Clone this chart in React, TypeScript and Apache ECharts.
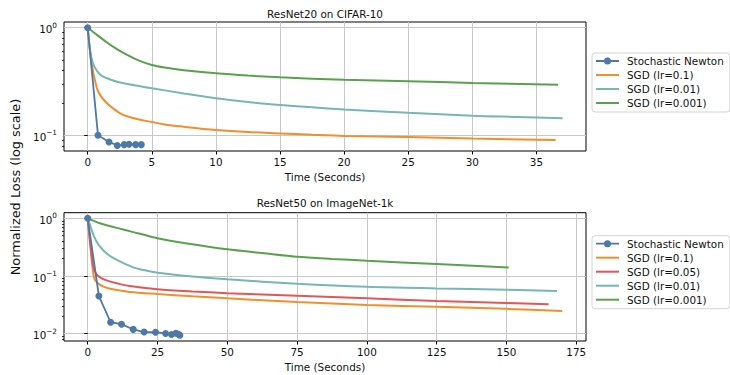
import React, { useEffect, useRef } from "react";
import * as echarts from "echarts";

const FONT = "DejaVu Sans";

// ---------- tick values ----------
const cifarXTicks = [0, 5, 10, 15, 20, 25, 30, 35];
const imagenetXTicks = [0, 25, 50, 75, 100, 125, 150, 175];
const cifarYTicks = [0.1, 1];
const imagenetYTicks = [0.01, 0.1, 1];
const cifarYMinor = [0.08, 0.09, 0.2, 0.3, 0.4, 0.5, 0.6, 0.7, 0.8, 0.9];
const imagenetYMinor = [0.008, 0.009, 0.02, 0.03, 0.04, 0.05, 0.06, 0.07, 0.08, 0.09, 0.2, 0.3, 0.4, 0.5, 0.6, 0.7, 0.8, 0.9];

// axis extents (matplotlib 5% margins)
const cifarXRange = [-1.85, 38.87];
const cifarYRange = [0.0721, 1.13];
const imagenetXRange = [-8.5, 178.5];
const imagenetYRange = [0.00748, 1.25];

// ---------- series names ----------
const NEWTON = "Stochastic Newton";
const LR01 = "SGD (lr=0.1)";
const LR005 = "SGD (lr=0.05)";
const LR001 = "SGD (lr=0.01)";
const LR0001 = "SGD (lr=0.001)";

// ---------- ResNet20 on CIFAR-10 ----------
const cifarNewton = [[0, 1.0], [0.8, 0.101], [1.66, 0.0875], [2.31, 0.081], [2.85, 0.0826], [3.22, 0.0832], [3.74, 0.0826], [4.18, 0.0826]];
const cifarLr01 = [[0, 1.0], [0.3, 0.47], [0.7, 0.28], [1.0, 0.235], [1.5, 0.2], [2.0, 0.178], [2.5, 0.162], [3, 0.152], [4, 0.141], [5, 0.134], [6, 0.127], [7.5, 0.121], [10, 0.113], [12.5, 0.108], [15, 0.105], [17.5, 0.102], [20, 0.0995], [25, 0.097], [30, 0.094], [36.5, 0.091]];
const cifarLr001 = [[0, 1.0], [0.2, 0.6], [0.5, 0.44], [1, 0.365], [1.5, 0.34], [2.3, 0.316], [3, 0.302], [4, 0.288], [5, 0.275], [7.5, 0.246], [10, 0.222], [12.5, 0.205], [15, 0.192], [17.5, 0.183], [20, 0.175], [25, 0.163], [30, 0.153], [33.5, 0.149], [37.05, 0.145]];
const cifarLr0001 = [[0, 1.0], [0.5, 0.9], [1, 0.81], [1.5, 0.73], [2, 0.665], [3, 0.565], [4, 0.495], [5, 0.452], [6, 0.428], [7.5, 0.404], [10, 0.378], [12.5, 0.36], [15, 0.347], [17.5, 0.337], [20, 0.329], [25, 0.319], [30, 0.308], [36.7, 0.296]];

// ---------- ResNet50 on ImageNet-1k ----------
const imagenetNewton = [[0, 1.0], [4.0, 0.045], [8.2, 0.0158], [12.1, 0.0146], [16.3, 0.0119], [20.2, 0.0107], [24.3, 0.0106], [27.9, 0.0101], [30.0, 0.0097], [31.6, 0.0102], [32.5, 0.0098], [33.0, 0.0094]];
const imagenetLr01 = [[0, 1.0], [1, 0.3], [2, 0.11], [2.6, 0.085], [4.4, 0.07], [7, 0.062], [10.4, 0.057], [15, 0.053], [25, 0.0488], [37.5, 0.0445], [50, 0.041], [75, 0.0355], [100, 0.0316], [125, 0.0293], [150, 0.027], [170, 0.0247]];
const imagenetLr005 = [[0, 1.0], [0.8, 0.42], [2, 0.145], [3, 0.11], [4.4, 0.095], [7, 0.083], [10.4, 0.0747], [15, 0.067], [25, 0.059], [37.5, 0.054], [50, 0.0505], [75, 0.0455], [100, 0.041], [125, 0.037], [150, 0.034], [165.1, 0.0323]];
const imagenetLr001 = [[0, 1.0], [1, 0.72], [2, 0.52], [3, 0.41], [4.4, 0.323], [7, 0.24], [10.4, 0.19], [16.3, 0.141], [20, 0.127], [25, 0.114], [37.5, 0.098], [50, 0.0875], [75, 0.0735], [100, 0.065], [125, 0.061], [150, 0.058], [168.1, 0.055]];
const imagenetLr0001 = [[0, 1.0], [4.4, 0.82], [10, 0.69], [15, 0.6], [25, 0.45], [35, 0.37], [50, 0.29], [62.5, 0.25], [75, 0.216], [87.5, 0.198], [100, 0.184], [125, 0.161], [150.8, 0.141]];

const COLORS = {
  newton: "#4e79a7",
  lr01: "#f28e2b",
  lr005: "#e15759",
  lr001: "#76b7b2",
  lr0001: "#59a14f",
};

// legend handles (matplotlib style: plain line, or line with a marker)
const LINE_ICON = "path://M0,0 L23,0 L23,2 L0,2 Z";
const MARKER_ICON =
  "path://M0,2.6 L8.6,2.6 L8.6,4.4 L0,4.4 Z M14.4,2.6 L23,2.6 L23,4.4 L14.4,4.4 Z M8,3.5 A3.5,3.5 0 1 1 15,3.5 A3.5,3.5 0 1 1 8,3.5 Z";

const supFormatter = (v: number) => {
  const e = Math.round(Math.log10(v));
  const s = e < 0 ? "\u2212" + String(-e) : String(e);
  return "{b|10}{s|" + s + "}";
};

const labelRich = {
  b: { fontSize: 10.4, lineHeight: 11, color: "#111", fontFamily: FONT, padding: [3, 0, 0, 0] },
  s: { fontSize: 7.3, lineHeight: 8, color: "#111", fontFamily: FONT, padding: [0, 0, 5.4, 0] },
};

function xAxisDef(gridIndex: number, range: number[], ticks: number[]) {
  return {
    type: "value",
    gridIndex,
    min: range[0],
    max: range[1],
    axisLine: { show: false },
    axisTick: { show: true, length: 3.5, customValues: ticks, lineStyle: { color: "#000", width: 1 } },
    axisLabel: { customValues: ticks, fontSize: 10.4, color: "#111", fontFamily: FONT, margin: 6 },
    splitLine: { show: true, lineStyle: { color: "#c8c8c8", width: 1 } },
    name: "Time (Seconds)",
    nameLocation: "middle",
    nameGap: 21,
    nameTextStyle: { fontSize: 10.4, color: "#111", fontFamily: FONT },
  };
}

function yAxisMajor(gridIndex: number, range: number[], ticks: number[]) {
  return {
    type: "log",
    logBase: 10,
    gridIndex,
    min: range[0],
    max: range[1],
    axisLine: { show: false },
    axisTick: { show: true, length: 3.5, customValues: ticks, lineStyle: { color: "#000", width: 1 } },
    axisLabel: { customValues: ticks, formatter: supFormatter, rich: labelRich, margin: 7 },
    splitLine: { show: true, lineStyle: { color: "#c8c8c8", width: 1 } },
  };
}

function yAxisMinor(gridIndex: number, range: number[], ticks: number[]) {
  return {
    type: "log",
    logBase: 10,
    gridIndex,
    min: range[0],
    max: range[1],
    position: "left",
    axisLine: { show: false },
    axisTick: { show: true, length: 2, customValues: ticks, lineStyle: { color: "#000", width: 0.8 } },
    axisLabel: { show: false },
    splitLine: { show: false },
  };
}

function sgd(name: string, data: number[][], color: string, xi: number, yi: number) {
  return {
    type: "line",
    name,
    data,
    xAxisIndex: xi,
    yAxisIndex: yi,
    symbol: "none",
    showSymbol: false,
    smooth: 0.3,
    lineStyle: { color, width: 2 },
    itemStyle: { color },
    z: 2,
  };
}

function newton(data: number[][], xi: number, yi: number) {
  return {
    type: "line",
    name: NEWTON,
    data,
    xAxisIndex: xi,
    yAxisIndex: yi,
    symbol: "circle",
    symbolSize: 7,
    showSymbol: true,
    lineStyle: { color: COLORS.newton, width: 1.8 },
    itemStyle: { color: COLORS.newton },
    z: 4,
  };
}

function legendDef(top: number, names: string[]) {
  return {
    data: names.map((n) => ({ name: n, icon: n === NEWTON ? MARKER_ICON : LINE_ICON })),
    orient: "vertical",
    left: 592,
    top,
    itemWidth: 23,
    itemHeight: 12,
    itemGap: 4,
    padding: [3, 6, 4, 4],
    borderColor: "#d4d4d4",
    borderWidth: 1,
    borderRadius: 3,
    backgroundColor: "rgba(255,255,255,0.8)",
    selectedMode: false,
    itemStyle: { borderWidth: 0 },
    textStyle: { fontSize: 10.4, color: "#111", fontFamily: FONT, padding: [0, 0, 0, 3] },
  };
}

export default function App() {
  const ref = useRef<HTMLDivElement>(null);

  useEffect(() => {
    if (!ref.current) return;
    const chart = echarts.init(ref.current, undefined, { renderer: "svg" });
    const option = {
      animation: false,
      backgroundColor: "#fff",
      textStyle: { fontFamily: FONT },
      grid: [
        { left: 64, top: 22, width: 522, height: 129, show: true, borderColor: "#000", borderWidth: 1, backgroundColor: "transparent" },
        { left: 64, top: 212.7, width: 522, height: 128.3, show: true, borderColor: "#000", borderWidth: 1, backgroundColor: "transparent" },
      ],
      xAxis: [xAxisDef(0, cifarXRange, cifarXTicks), xAxisDef(1, imagenetXRange, imagenetXTicks)],
      yAxis: [
        yAxisMajor(0, cifarYRange, cifarYTicks),
        yAxisMinor(0, cifarYRange, cifarYMinor),
        yAxisMajor(1, imagenetYRange, imagenetYTicks),
        yAxisMinor(1, imagenetYRange, imagenetYMinor),
      ],
      legend: [
        legendDef(53, [NEWTON, LR01, LR001, LR0001]),
        legendDef(235.7, [NEWTON, LR01, LR005, LR001, LR0001]),
      ],
      graphic: [
        { type: "text", x: 325, y: 13.5, style: { text: "ResNet20 on CIFAR-10", fontSize: 10.4, fontFamily: FONT, fill: "#111", align: "center", verticalAlign: "middle" } },
        { type: "text", x: 325, y: 203, style: { text: "ResNet50 on ImageNet-1k", fontSize: 10.4, fontFamily: FONT, fill: "#111", align: "center", verticalAlign: "middle" } },
        { type: "text", x: 15.5, y: 187, rotation: Math.PI / 2, style: { text: "Normalized Loss (log scale)", fontSize: 12.9, fontFamily: FONT, fill: "#111", align: "center", verticalAlign: "middle" } },
      ],
      series: [
        sgd(LR01, cifarLr01, COLORS.lr01, 0, 0),
        sgd(LR001, cifarLr001, COLORS.lr001, 0, 0),
        sgd(LR0001, cifarLr0001, COLORS.lr0001, 0, 0),
        newton(cifarNewton, 0, 0),
        sgd(LR01, imagenetLr01, COLORS.lr01, 1, 2),
        sgd(LR005, imagenetLr005, COLORS.lr005, 1, 2),
        sgd(LR001, imagenetLr001, COLORS.lr001, 1, 2),
        sgd(LR0001, imagenetLr0001, COLORS.lr0001, 1, 2),
        newton(imagenetNewton, 1, 2),
      ],
    };
    chart.setOption(option as any);
    return () => chart.dispose();
  }, []);

  return <div ref={ref} style={{ position: "absolute", left: 0, top: 0, width: 730, height: 375 }} />;
}
